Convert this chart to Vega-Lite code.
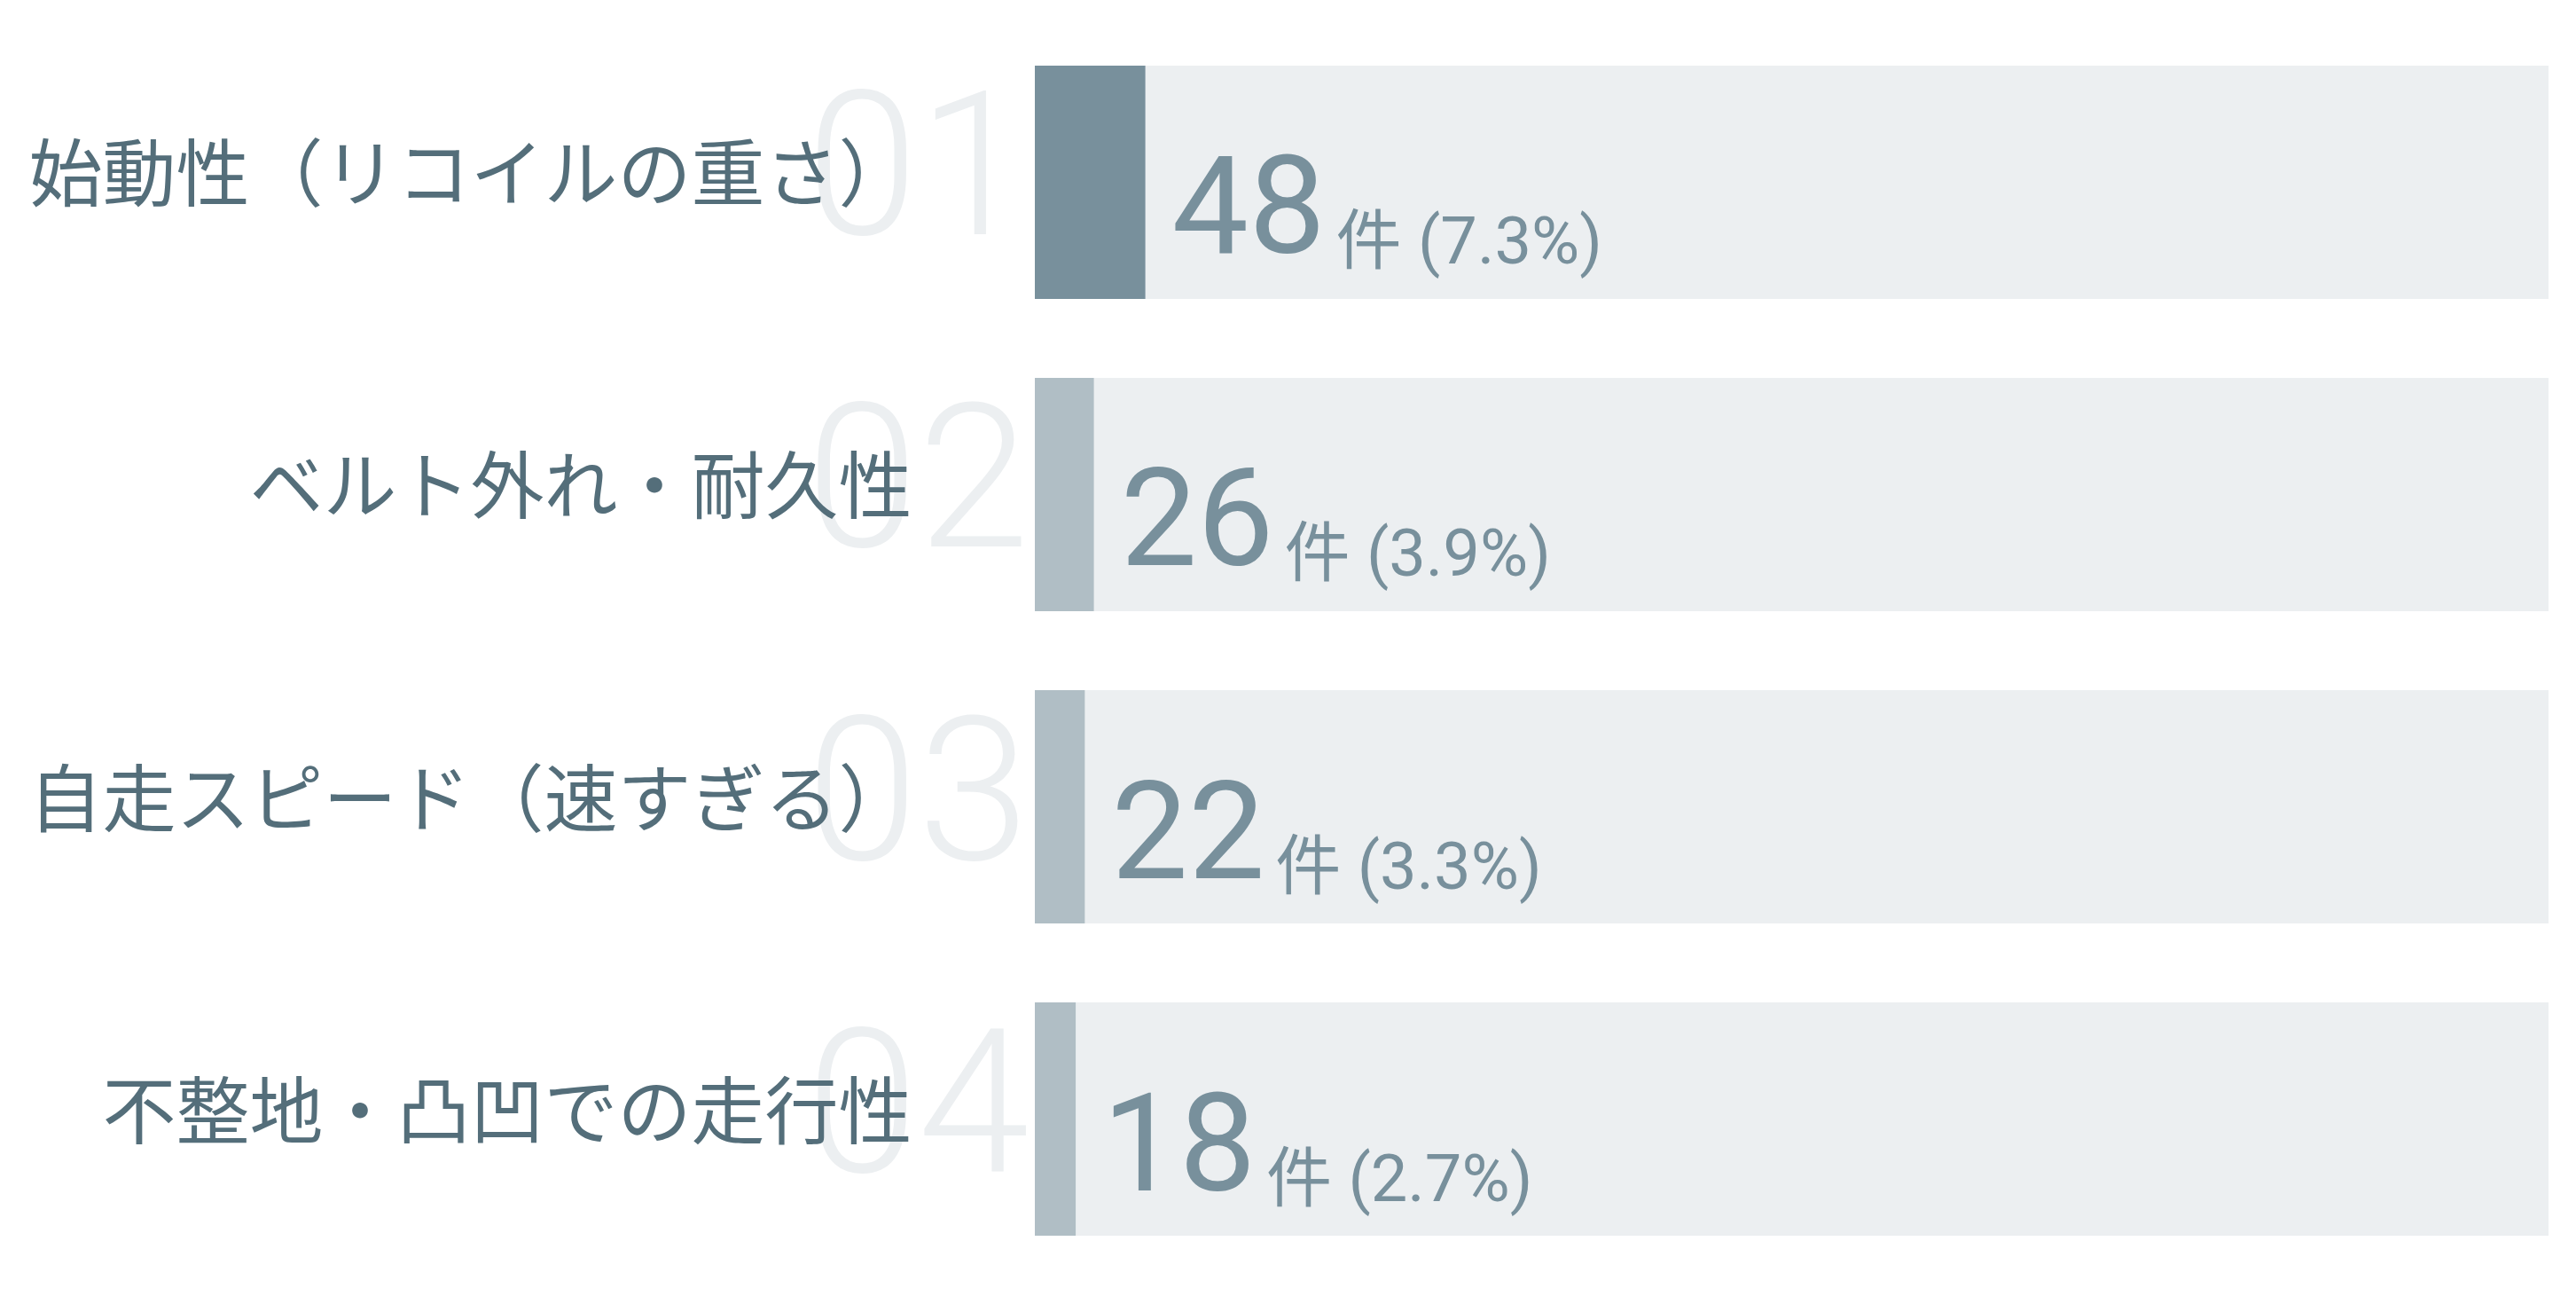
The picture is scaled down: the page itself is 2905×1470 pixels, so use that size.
{
  "$schema": "https://vega.github.io/schema/vega-lite/v6.json",
  "autosize": {"type": "none"},
  "width": 1707,
  "height": 1319,
  "padding": {"left": 1167, "top": 74, "right": 31, "bottom": 77},
  "background": "#ffffff",
  "config": {
    "view": {"stroke": null},
    "text": {"font": "Roboto, 'Noto Sans CJK JP'"}
  },
  "data": {
    "values": [
      {"rank": "01", "label": "始動性（リコイルの重さ）", "count": 48, "pct": 7.3},
      {"rank": "02", "label": "ベルト外れ・耐久性", "count": 26, "pct": 3.9},
      {"rank": "03", "label": "自走スピード（速すぎる）", "count": 22, "pct": 3.3},
      {"rank": "04", "label": "不整地・凸凹での走行性", "count": 18, "pct": 2.7}
    ]
  },
  "transform": [
    {"calculate": "'件 (' + format(datum.pct, '.1f') + '%)'", "as": "detail"}
  ],
  "encoding": {
    "y": {
      "field": "label",
      "type": "nominal",
      "sort": {"field": "rank"},
      "scale": {"paddingInner": 0.253, "paddingOuter": 0},
      "axis": {
        "title": null,
        "domain": false,
        "ticks": false,
        "tickSize": 0,
        "grid": false,
        "labelFont": "Noto Sans CJK JP",
        "labelFontSize": 83,
        "labelColor": "#546e7a",
        "labelPadding": 139,
        "labelLimit": 2000,
        "labelOffset": -4,
        "zindex": 1
      }
    }
  },
  "layer": [
    {
      "mark": {"type": "bar", "color": "#eceff1"},
      "encoding": {
        "x": {"datum": 0, "type": "quantitative", "scale": {"domain": [0, 100]}, "axis": null},
        "x2": {"datum": 100}
      }
    },
    {
      "mark": {"type": "bar"},
      "encoding": {
        "x": {"field": "pct", "type": "quantitative", "scale": {"domain": [0, 100]}, "axis": null},
        "color": {
          "condition": {"test": "datum.rank === '01'", "value": "#78909c"},
          "value": "#b0bec5"
        }
      }
    },
    {
      "mark": {
        "type": "text",
        "align": "right",
        "baseline": "alphabetic",
        "dx": -6,
        "dy": 59,
        "fontSize": 227,
        "fontWeight": 300,
        "font": "Roboto",
        "color": "#eceff1"
      },
      "encoding": {
        "x": {"datum": 0, "type": "quantitative"},
        "text": {"field": "rank"}
      }
    },
    {
      "mark": {
        "type": "text",
        "align": "left",
        "baseline": "alphabetic",
        "dx": 30,
        "dy": 80,
        "fontSize": 154,
        "fontWeight": 400,
        "font": "Roboto",
        "color": "#78909c"
      },
      "encoding": {
        "x": {"field": "pct", "type": "quantitative"},
        "text": {"field": "count"}
      }
    },
    {
      "mark": {
        "type": "text",
        "align": "left",
        "baseline": "alphabetic",
        "dx": 215,
        "dy": 92,
        "fontSize": 74,
        "color": "#78909c"
      },
      "encoding": {
        "x": {"field": "pct", "type": "quantitative"},
        "text": {"field": "detail"}
      }
    }
  ]
}
